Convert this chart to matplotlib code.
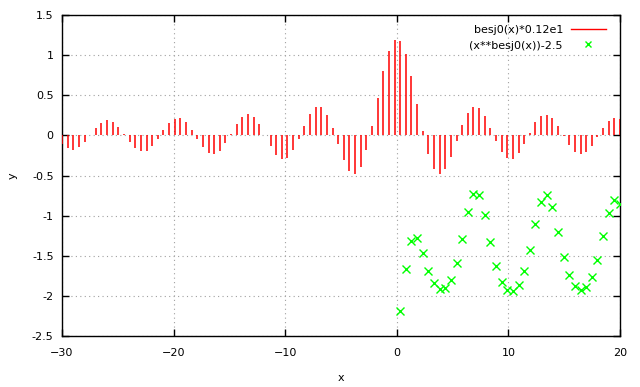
import numpy as np
import matplotlib
matplotlib.use("Agg")
import matplotlib.pyplot as plt
from matplotlib.lines import Line2D

# 100 samples over the x range, as gnuplot does
x_samples = np.linspace(-30, 20, 100)

besj0_scaled = [
    -0.104, -0.160, -0.177, -0.150, -0.085, 0.003, 0.092, 0.159, 0.188, 0.169, 0.108, 0.018,
    -0.079, -0.157, -0.198, -0.189, -0.133, -0.042, 0.062, 0.153, 0.208, 0.211, 0.161, 0.069,
    -0.043, -0.148, -0.217, -0.234, -0.192, -0.100, 0.020, 0.140, 0.229, 0.262, 0.230, 0.138,
    0.007, -0.131, -0.242, -0.297, -0.279, -0.187, -0.043, 0.121, 0.264, 0.348, 0.349, 0.259,
    0.094, -0.111, -0.307, -0.444, -0.481, -0.394, -0.185, 0.118, 0.466, 0.798, 1.055, 1.188,
    1.173, 1.012, 0.736, 0.395, 0.052, -0.236, -0.422, -0.483, -0.424, -0.271, -0.069, 0.132,
    0.284, 0.356, 0.338, 0.239, 0.088, -0.075, -0.211, -0.288, -0.292, -0.224, -0.104, 0.035,
    0.161, 0.242, 0.260, 0.215, 0.118, -0.005, -0.122, -0.205, -0.236, -0.207, -0.129, -0.021,
    0.090, 0.175, 0.214, 0.200,
]

# x**besj0(x) is only defined for the positive samples
power_shifted = [
    -2.189, -1.664, -1.318, -1.282, -1.463, -1.685, -1.845, -1.918, -1.905, -1.800, -1.592, -1.286,
    -0.951, -0.728, -0.746, -0.992, -1.331, -1.627, -1.825, -1.924, -1.934, -1.860, -1.691, -1.424,
    -1.099, -0.825, -0.743, -0.898, -1.200, -1.510, -1.743, -1.877, -1.923, -1.887, -1.764, -1.548,
    -1.257, -0.965, -0.800, -0.851,
]

x_ticks = [-30, -20, -10, 0, 10, 20]
y_ticks = [-2.5, -2, -1.5, -1, -0.5, 0, 0.5, 1, 1.5]
y_tick_labels = ["-2.5", "-2", "-1.5", "-1", "-0.5", "0", "0.5", "1", "1.5"]

plt.rcParams["font.family"] = "DejaVu Sans"
plt.rcParams["font.size"] = 8

W, H = 640, 387
L, R, T, B = 62, 620, 15, 336
fig = plt.figure(figsize=(W / 100, H / 100), dpi=100)
ax = fig.add_axes([L / W, 1 - B / H, (R - L) / W, (B - T) / H])

ax.vlines(x_samples, 0, besj0_scaled, color="red", linewidth=1.1, zorder=3)
ax.plot(x_samples[len(x_samples) - len(power_shifted):], power_shifted,
        linestyle="none", marker="x", markersize=5.5, markeredgewidth=1.0,
        color="#00ff00", zorder=4)

ax.set_xlim(-30, 20)
ax.set_ylim(-2.5, 1.5)
ax.set_xticks(x_ticks)
ax.set_yticks(y_ticks)
ax.set_yticklabels(y_tick_labels)
ax.tick_params(direction="in", length=5, width=1, top=True, right=True,
               labeltop=False, labelright=False, colors="black")
ax.tick_params(axis="x", pad=9)
ax.tick_params(axis="y", pad=6)
ax.grid(True, color="#a0a0a0", linestyle=(0, (1, 3)), linewidth=0.8)
ax.set_axisbelow(True)
for s in ax.spines.values():
    s.set_linewidth(1.0)

ax.set_xlabel("x")
ax.set_ylabel("y")
ax.xaxis.set_label_coords((341 - L) / (R - L), (B - 378) / (B - T))
ax.yaxis.set_label_coords((13 - L) / (R - L), 0.5)
ax.xaxis.label.set_va("center")
ax.yaxis.label.set_va("center")


def key_xy(px, py):
    # pixel position of the key -> axes fraction
    return (px - L) / (R - L), (B - py) / (B - T)


# gnuplot-style key: right-aligned text, sample to the right
kt = ax.transAxes
ax.text(*key_xy(563, 30), "besj0(x)*0.12e1", transform=kt, ha="right", va="center")
ax.text(*key_xy(563, 46), "(x**besj0(x))-2.5", transform=kt, ha="right", va="center")
x0, y0 = key_xy(571, 29)
x1, _ = key_xy(606, 29)
ax.add_line(Line2D([x0, x1], [y0, y0], transform=kt, color="red", linewidth=1.0))
gx, gy = key_xy(588, 44)
ax.add_line(Line2D([gx], [gy], transform=kt, linestyle="none", marker="x",
                   markersize=5, markeredgewidth=1.0, color="#00ff00"))

fig.savefig("out.png", dpi=100)
